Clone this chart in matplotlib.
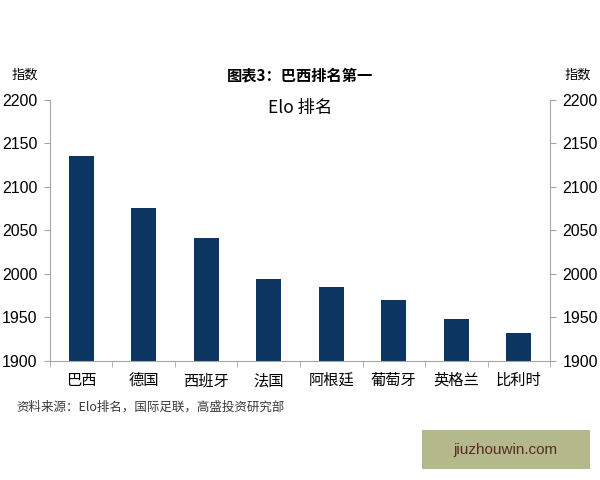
import matplotlib
matplotlib.use('Agg')
import matplotlib.pyplot as plt
from matplotlib.patches import FancyBboxPatch
import numpy as np

plt.rcParams['font.family'] = ['Noto Sans CJK SC', 'DejaVu Sans']

countries = ['巴西', '德国', '西班牙', '法国', '阿根廷', '葡萄牙', '英格兰', '比利时']
elo = [2135, 2076, 2041, 1994, 1985, 1970, 1948, 1932]
yticks = [1900, 1950, 2000, 2050, 2100, 2150, 2200]

BAR = '#0c3561'
AXIS = '#a6a6a6'

fig = plt.figure(figsize=(6, 4.8), dpi=100)
ax = fig.add_axes([0.083, 0.248, 0.834, 0.544])

x = np.arange(len(countries))
ax.bar(x, elo, width=0.4, color=BAR, bottom=0)
ax.set_ylim(1900, 2200)
ax.set_xlim(-0.5, len(countries) - 0.5)
ax.set_yticks(yticks)
ax.set_yticklabels([str(v) for v in yticks], fontsize=11.5, family='Liberation Sans')

ax.set_xticks(x)
ax.set_xticklabels(countries, fontsize=11)
ax.tick_params(axis='x', length=0, pad=8)
ax.set_xticks(np.arange(len(countries) + 1) - 0.5, minor=True)
ax.tick_params(axis='x', which='minor', length=4, color=AXIS, direction='out')
ax.tick_params(axis='y', length=4, color=AXIS, direction='out', pad=5)

for s in ['top', 'right']:
    ax.spines[s].set_visible(False)
ax.spines['left'].set_color(AXIS)
ax.spines['bottom'].set_color(AXIS)

ax2 = ax.twinx()
ax2.set_ylim(1900, 2200)
ax2.set_yticks(yticks)
ax2.set_yticklabels([str(v) for v in yticks], fontsize=11.5, family='Liberation Sans')
ax2.tick_params(axis='y', length=4, color=AXIS, direction='out', pad=5)
for s in ['top', 'left', 'bottom']:
    ax2.spines[s].set_visible(False)
ax2.spines['right'].set_color(AXIS)

fig.text(0.5, 0.843, '图表3：巴西排名第一', ha='center', va='center', fontsize=11, fontweight='bold')
fig.text(0.5, 0.775, 'Elo 排名', ha='center', va='center', fontsize=12.5)
fig.text(0.042, 0.843, '指数', ha='center', va='center', fontsize=9.5)
fig.text(0.963, 0.843, '指数', ha='center', va='center', fontsize=9.5)
fig.text(0.028, 0.152, '资料来源：Elo排名，国际足联，高盛投资研究部', ha='left', va='center',
         fontsize=9, style='italic', color='#3a3a3a')

box = FancyBboxPatch((0.703, 0.022), 0.28, 0.082, boxstyle='square,pad=0',
                     transform=fig.transFigure, facecolor='#b3b98a', edgecolor='none')
fig.patches.append(box)
fig.text(0.843, 0.063, 'jiuzhouwin.com', ha='center', va='center', fontsize=11,
         color='#5a2a2a', family='Liberation Sans')

fig.savefig('out.png', dpi=100, facecolor='white')
